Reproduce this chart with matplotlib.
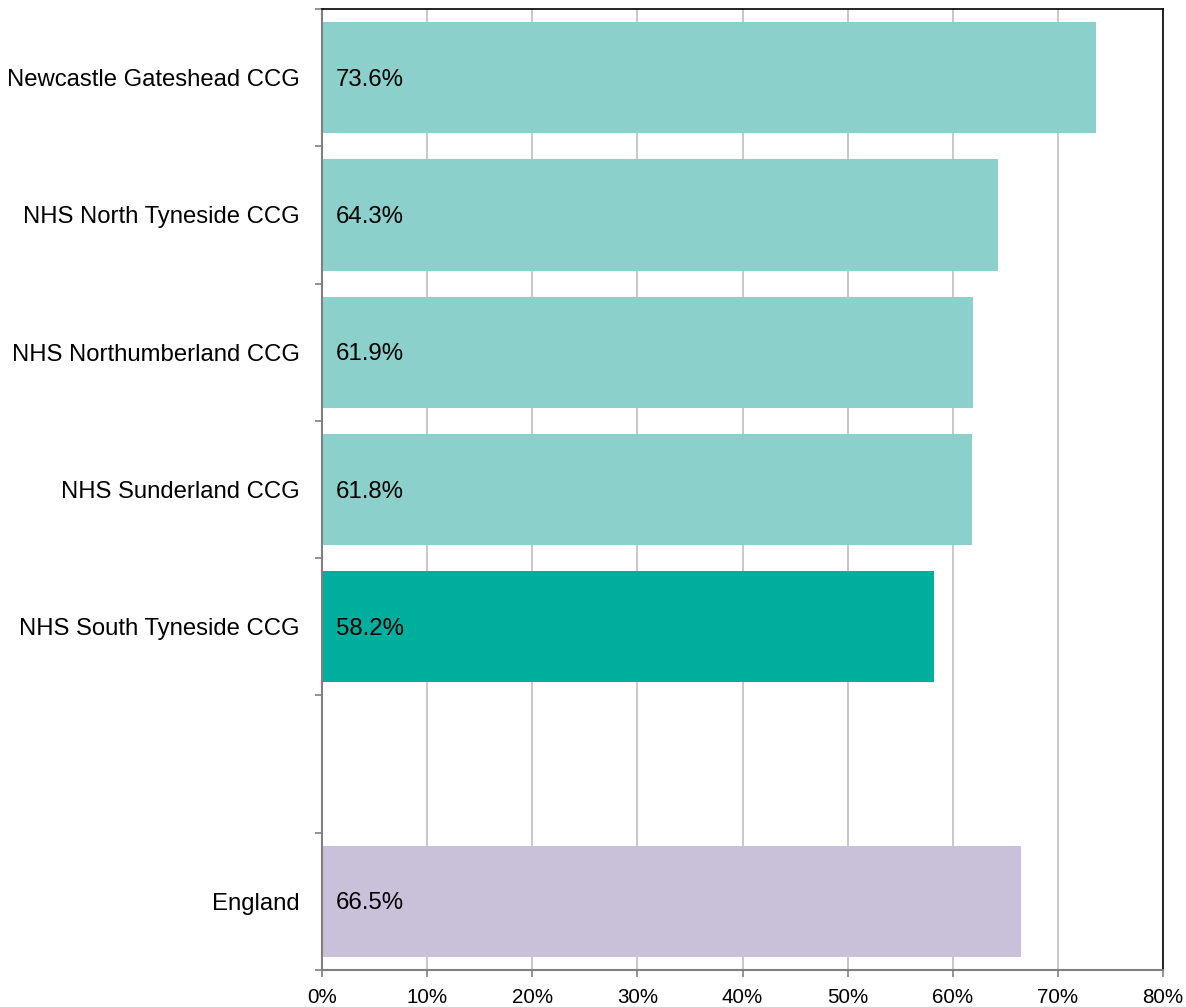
import matplotlib
matplotlib.use("Agg")
import matplotlib.pyplot as plt
from matplotlib.ticker import FuncFormatter, FixedLocator

categories = ["Newcastle Gateshead CCG", "NHS North Tyneside CCG", "NHS Northumberland CCG",
              "NHS Sunderland CCG", "NHS South Tyneside CCG", "", "England"]
values = [73.6, 64.3, 61.9, 61.8, 58.2, None, 66.5]
colors = ["#8BD0CA", "#8BD0CA", "#8BD0CA", "#8BD0CA", "#00AE9E", None, "#C9C0DA"]
xticks = [0, 10, 20, 30, 40, 50, 60, 70, 80]

plt.rcParams['font.family'] = ['Liberation Sans', 'DejaVu Sans']

fig = plt.figure(figsize=(11.86, 10.07), dpi=100)
ax = fig.add_axes([322/1186, 1-970/1007, (1163-322)/1186, (970-9)/1007])

n = len(categories)
for i, (v, c) in enumerate(zip(values, colors)):
    if v is None:
        continue
    ax.barh(i, v, height=0.81, color=c, zorder=2)
    ax.annotate(f"{v:.1f}%", xy=(0, i), xytext=(10, -1.5), textcoords="offset points",
                ha="left", va="center", fontsize=17.3, color="black", zorder=3)

ax.set_ylim(n - 0.5, -0.5)
ax.set_xlim(0, 80)
ax.set_yticks(range(n))
ax.set_yticklabels(categories, fontsize=17.2)
ax.tick_params(axis='y', which='major', length=0, pad=16)
ax.yaxis.set_minor_locator(FixedLocator([i - 0.5 for i in range(n + 1)]))
ax.tick_params(axis='y', which='minor', length=5, color="#808080", width=1.2)

ax.set_xticks(xticks)
ax.xaxis.set_major_formatter(FuncFormatter(lambda x, p: f"{x:.0f}%"))
ax.tick_params(axis='x', length=5, color="#808080", width=1.2, labelsize=14.8, pad=8)

ax.grid(axis='x', color="#BFBFBF", linewidth=1.2, zorder=0)
ax.set_axisbelow(True)

ax.spines['left'].set_color("#808080")
ax.spines['bottom'].set_color("#808080")
ax.spines['left'].set_linewidth(1.5)
ax.spines['bottom'].set_linewidth(1.5)
ax.spines['top'].set_color("black")
ax.spines['right'].set_color("black")
ax.spines['top'].set_linewidth(1.2)
ax.spines['right'].set_linewidth(1.2)

fig.savefig("out.png", dpi=100, facecolor="white")
